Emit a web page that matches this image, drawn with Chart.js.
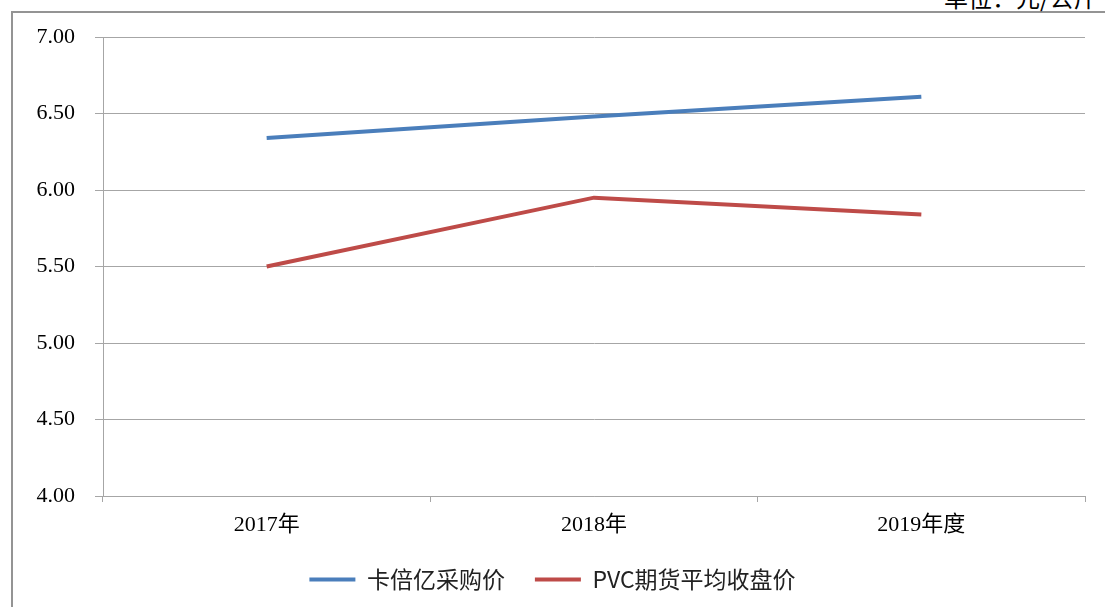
<!DOCTYPE html>
<html>
<head>
    <meta charset="utf-8">
    <title>采购价与PVC期货价</title>
    <script src="https://cdn.jsdelivr.net/npm/chart.js"></script>
    <style>
        html, body { margin: 0; padding: 0; background: #fff; overflow: hidden; }
        #wrap { position: relative; width: 1105px; height: 607px; overflow: hidden; }
        #frame {
            position: absolute; left: 11px; top: 11px; width: 1200px; height: 700px;
            border-left: 2px solid #949494; border-top: 2px solid #949494;
        }
        #unit {
            position: absolute; left: 944px; top: -15px; white-space: nowrap;
            font-family: "Noto Sans CJK SC", sans-serif; font-size: 24px; line-height: 24px; color: #000;
        }
        #priceChart { position: absolute; left: 0; top: 0; }
    </style>
</head>
<body>
<div id="wrap">
    <div id="frame"></div>
    <div id="unit">单位：元/公斤</div>
    <canvas id="priceChart" width="1105" height="607"></canvas>
</div>

<script>
    // 年度
    var years = ['2017年', '2018年', '2019年度'];
    // 卡倍亿采购价（元/公斤）
    var purchasePrice = [6.34, 6.48, 6.61];
    // PVC期货平均收盘价（元/公斤）
    var pvcClose = [5.50, 5.95, 5.84];
    var yTicks = [4.00, 4.50, 5.00, 5.50, 6.00, 6.50, 7.00];

    var gridColor = '#a6a6a6';
    var serif = "'Liberation Serif', 'Times New Roman', 'Noto Sans CJK SC', serif";

    var ctx = document.getElementById('priceChart').getContext('2d');
    var priceChart = new Chart(ctx, {
        type: 'line',
        data: {
            labels: years,
            datasets: [{
                label: '卡倍亿采购价',
                data: purchasePrice,
                borderColor: '#4a7ebb',
                backgroundColor: '#4a7ebb',
                borderWidth: 4,
                pointRadius: 0,
                tension: 0
            }, {
                label: 'PVC期货平均收盘价',
                data: pvcClose,
                borderColor: '#be4b48',
                backgroundColor: '#be4b48',
                borderWidth: 4,
                pointRadius: 0,
                tension: 0
            }]
        },
        options: {
            responsive: false,
            animation: false,
            layout: { padding: { left: 20, top: 37, right: 20, bottom: 6 } },
            plugins: {
                tooltip: { enabled: false },
                legend: {
                    position: 'bottom',
                    labels: {
                        boxWidth: 46,
                        boxHeight: 4,
                        padding: 30,
                        color: '#222',
                        font: { family: "'Noto Sans CJK SC', sans-serif", size: 23 },
                        generateLabels: function(chart) {
                            return Chart.defaults.plugins.legend.labels.generateLabels(chart).map(function(item) {
                                item.lineWidth = 0;
                                return item;
                            });
                        }
                    }
                }
            },
            scales: {
                x: {
                    offset: true,
                    grid: {
                        offset: true,
                        drawOnChartArea: false,
                        drawTicks: true,
                        tickLength: 6,
                        color: gridColor
                    },
                    border: { color: gridColor },
                    ticks: {
                        color: '#000',
                        padding: 10,
                        maxRotation: 0,
                        font: { family: serif, size: 22 }
                    },
                    afterFit: function(scale) { scale.height = 42; }
                },
                y: {
                    min: 4,
                    max: 7,
                    afterBuildTicks: function(scale) {
                        scale.ticks = yTicks.map(function(v) { return { value: v }; });
                    },
                    grid: {
                        color: gridColor,
                        drawTicks: true,
                        tickLength: 8
                    },
                    border: { color: gridColor },
                    ticks: {
                        color: '#000',
                        padding: 20,
                        font: { family: serif, size: 22 },
                        callback: function(v) { return Number(v).toFixed(2); }
                    },
                    afterFit: function(scale) { scale.width = 83; }
                }
            }
        }
    });
</script>
</body>
</html>
